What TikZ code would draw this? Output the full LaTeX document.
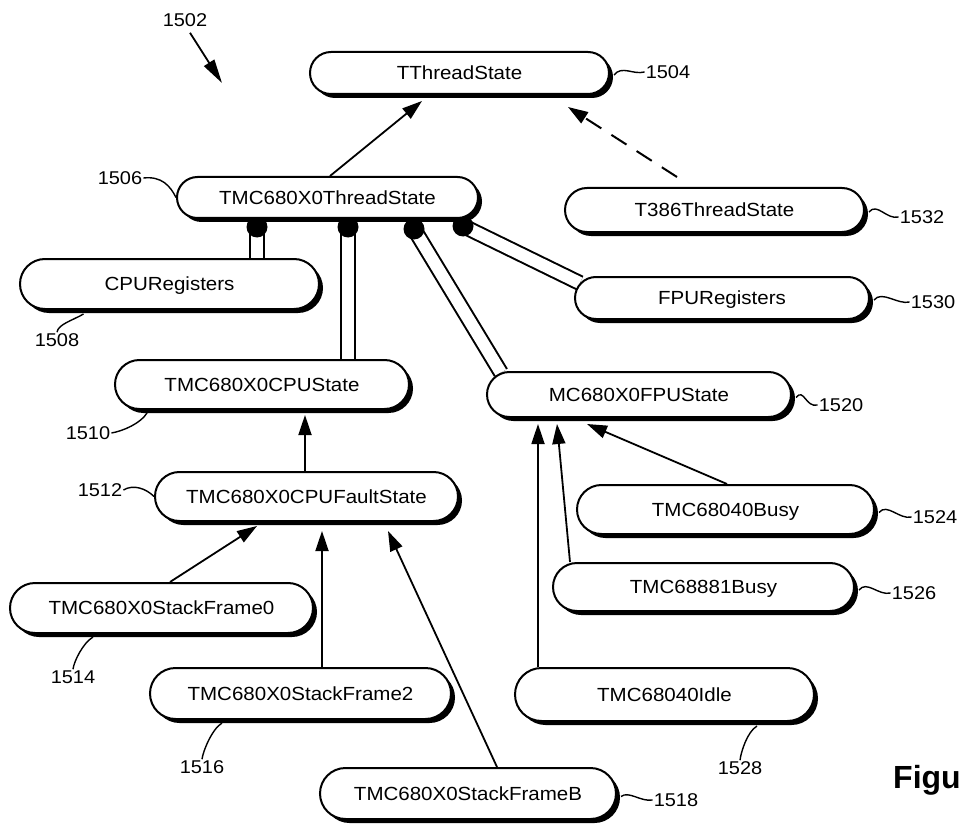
\documentclass[tikz,border=0pt]{standalone}
\usepackage{fontspec}
\setmainfont{Liberation Sans}[FakeStretch=1.08]
\newfontfamily\figfont{Liberation Sans}
\usetikzlibrary{shapes.misc,shadows,arrows.meta,calc}
\pgfdeclarelayer{background}
\pgfsetlayers{background,main}
\begin{document}
\begin{tikzpicture}[x=1pt,y=-1pt,
  box/.style={rounded rectangle, draw, line width=2pt, fill=white, inner sep=0pt,
    font=\fontsize{19}{21}\selectfont, text height=13.6pt, text depth=0pt,
    drop shadow={shadow xshift=4pt, shadow yshift=-4pt, fill=black, opacity=1}},
  num/.style={inner sep=1pt, font=\fontsize{18.5}{20}\selectfont, text height=13.2pt, text depth=0pt},
  inh/.style={line width=1.8pt, -{Triangle[length=20pt,width=13pt]}},
  comp/.style={line width=2pt, double=white, double distance=12pt},
  compdot/.style={fill=black},
  lead/.style={line width=1.4pt},
]
\useasboundingbox (0,0) rectangle (962,824);

% class nodes
\node[box, minimum width=299pt, minimum height=42pt] (tt)     at (459.5,73)  {TThreadState};
\node[box, minimum width=301pt, minimum height=41pt] (ts)     at (327.5,197.5) {TMC680X0ThreadState};
\node[box, minimum width=299pt, minimum height=44pt] (t386)   at (714.5,210) {T386ThreadState};
\node[box, minimum width=299pt, minimum height=50pt] (cpureg) at (169.5,284) {CPURegisters};
\node[box, minimum width=294pt, minimum height=42pt] (fpreg)  at (722,298)   {FPURegisters};
\node[box, minimum width=294pt, minimum height=49pt] (cpus)   at (262,384.5) {TMC680X0CPUState};
\node[box, minimum width=304pt, minimum height=45pt] (fpus)   at (639,394.5) {MC680X0FPUState};
\node[box, minimum width=303pt, minimum height=49pt] (cpuf)   at (306.5,496.5) {TMC680X0CPUFaultState};
\node[box, minimum width=303pt, minimum height=50pt] (sf0)    at (161.5,608) {TMC680X0StackFrame0};
\node[box, minimum width=301pt, minimum height=51pt] (sf2)    at (300.5,693.5) {TMC680X0StackFrame2};
\node[box, minimum width=296pt, minimum height=51pt] (sfb)    at (468,793.5) {TMC680X0StackFrameB};
\node[box, minimum width=297pt, minimum height=49pt] (busy40) at (725.5,509.5) {TMC68040Busy};
\node[box, minimum width=301pt, minimum height=48pt] (b881)   at (703.5,587) {TMC68881Busy};
\node[box, minimum width=299pt, minimum height=53pt] (idle)   at (664.5,694.5) {TMC68040Idle};

% reference numbers
\node[num] (l1502) at (185,20)  {1502};
\node[num] (l1504) at (668,72)  {1504};
\node[num] (l1506) at (120,178) {1506};
\node[num] (l1532) at (922,217) {1532};
\node[num] (l1530) at (933,302) {1530};
\node[num] (l1508) at (57,340)  {1508};
\node[num] (l1510) at (88,433)  {1510};
\node[num] (l1520) at (841,405) {1520};
\node[num] (l1512) at (100,490) {1512};
\node[num] (l1524) at (935,517) {1524};
\node[num] (l1526) at (914,593) {1526};
\node[num] (l1514) at (73,677)  {1514};
\node[num] (l1516) at (202,767) {1516};
\node[num] (l1528) at (740,768) {1528};
\node[num] (l1518) at (676,800) {1518};
\node[anchor=west, inner sep=0pt, font=\figfont\bfseries\fontsize{32}{34}\selectfont] (fig) at (893,780) {Figu};

\coordinate (p1502) at (222,83);
\coordinate (d1) at (257,227);
\coordinate (d2) at (348,227);
\coordinate (d3) at (414,229);
\coordinate (d4) at (463,226);

\begin{pgfonlayer}{background}
  % composition links
  \draw[comp] (d1) -- (d1 |- cpureg.north);
  \draw[comp] (d2) -- (d2 |- cpus.north);
  \draw[comp] (d3) -- (fpus.171);
  \draw[comp] (d4) -- (fpreg.174);
  \fill[compdot] (d1) circle (10.5pt);
  \fill[compdot] (d2) circle (10.5pt);
  \fill[compdot] (d3) circle (10.5pt);
  \fill[compdot] (d4) circle (10.5pt);
  % inheritance arrows
  \draw[inh] ($(ts.north)+(2.5,0)$) -- ($(tt.south)+(-37.5,6)$);
  \draw[inh, dash pattern=on 18pt off 12pt, line width=2pt] ($(t386.north)+(-37.5,-10)$) -- ($(tt.south)+(108.5,12)$);
  \draw[inh] ($(cpuf.north)+(-1.5,0)$) -- ($(cpus.south)+(43,5)$);
  \draw[inh] ($(sf0.north)+(8.5,0)$) -- ($(cpuf.south)+(-49.5,4)$);
  \draw[inh] ($(sf2.north)+(21.5,0)$) -- ($(cpuf.south)+(15.5,9)$);
  \draw[inh] ($(sfb.north)+(29,0)$) -- ($(cpuf.south)+(81.5,9)$);
  \draw[inh] ($(busy40.north)+(1.5,0)$) -- ($(fpus.south)+(-52,6)$);
  \draw[inh] ($(b881.north)+(-133.5,0)$) -- ($(fpus.south)+(-82,6)$);
  \draw[inh] ($(idle.north)+(-126.5,0)$) -- ($(fpus.south)+(-101,6)$);
  % figure pointer
  \draw[line width=1.8pt, -{Triangle[length=24pt,width=12pt]}] ($(l1502.south)+(5,5)$) -- (p1502);
\end{pgfonlayer}

% lead lines
\draw[lead] ($(tt.east)+(4,2)$) .. controls +(8,-10) and +(-12,3) .. (l1504.west);
\draw[lead] (l1506.east) .. controls +(18,-2) and +(-6,-12) .. (ts.west);
\draw[lead] ($(t386.east)+(4,2)$) .. controls +(8,-10) and +(-12,3) .. (l1532.west);
\draw[lead] ($(fpreg.east)+(4,2)$) .. controls +(8,-10) and +(-12,3) .. (l1530.west);
\draw[lead] ($(fpus.east)+(4,3)$) .. controls +(8,-10) and +(-12,3) .. (l1520.west);
\draw[lead] ($(busy40.east)+(4,3)$) .. controls +(8,-10) and +(-12,3) .. (l1524.west);
\draw[lead] ($(b881.east)+(4,3)$) .. controls +(8,-10) and +(-12,3) .. (l1526.west);
\draw[lead] ($(sfb.east)+(4,3)$) .. controls +(8,-6) and +(-12,2) .. (l1518.west);
\draw[lead] ($(cpureg.south)+(-86,4)$) .. controls +(-10,6) and +(1,-8) .. (l1508.north);
\draw[lead] (l1510.east) .. controls +(12,-2) and +(-6,10) .. ($(cpus.south)+(-115,3)$);
\draw[lead] (l1512.east) .. controls +(10,-6) and +(-8,-8) .. (cpuf.west);
\draw[lead] ($(sf0.south)+(-68.5,3)$) .. controls +(-10,6) and +(1,-8) .. (l1514.north);
\draw[lead] ($(sf2.south)+(-78.5,3)$) .. controls +(-10,6) and +(1,-8) .. (l1516.north);
\draw[lead] ($(idle.south)+(92.5,4)$) .. controls +(-10,6) and +(1,-8) .. (l1528.north);
\end{tikzpicture}
\end{document}
